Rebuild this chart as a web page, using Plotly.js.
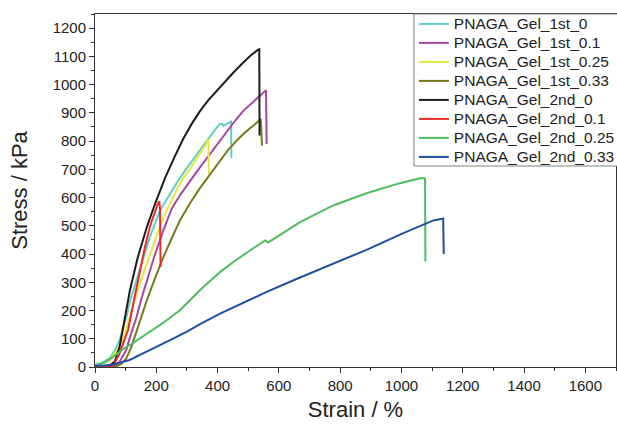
<!DOCTYPE html>
<html>
<head>
<meta charset="utf-8">
<script src="https://cdn.plot.ly/plotly-3.0.1.min.js"></script>
<style>
html,body{margin:0;padding:0;background:#fff;}
#chart{width:617px;height:426px;}
#chart text.legendtext{font-size:15.5px !important;}
#chart .legend .scrollbox{clip-path:none !important;}
#chart .legend{clip-path:none !important;}
</style>
</head>
<body>
<div id="chart"></div>
<script>
// Series names
const seriesNames = ["PNAGA_Gel_1st_0","PNAGA_Gel_1st_0.1","PNAGA_Gel_1st_0.25","PNAGA_Gel_1st_0.33",
                     "PNAGA_Gel_2nd_0","PNAGA_Gel_2nd_0.1","PNAGA_Gel_2nd_0.25","PNAGA_Gel_2nd_0.33"];

// PNAGA_Gel_1st_0 (strain %, stress kPa)
const strain_1st_0 = [0,20,48,65,80,102,114,130,155,179,212,240,270,300,330,360,386,400,408,414,419,428,436,444,445];
const stress_1st_0 = [8,14,31,58,95,175,232,290,380,460,554,605,658,705,750,795,835,852,861,862,854,860,866,869,740];

// PNAGA_Gel_1st_0.1
const strain_1st_01 = [0,40,63,80,102,114,135,151,169,196,223,250,277,300,321,348,375,400,430,457,484,511,538,558,560];
const stress_1st_01 = [0,0,2,18,60,105,175,240,307,400,484,560,608,645,675,715,754,790,837,872,907,935,960,980,790];

// PNAGA_Gel_1st_0.25
const strain_1st_025 = [0,20,48,70,91,114,140,169,196,223,250,283,315,343,360,370,372];
const stress_1st_025 = [4,10,24,55,95,178,275,366,450,530,590,660,710,754,785,807,684];

// PNAGA_Gel_1st_0.33
const strain_1st_033 = [0,40,63,85,102,120,145,169,196,223,250,277,310,340,364,380,408,435,462,489,516,541,545];
const stress_1st_033 = [0,0,0,10,30,75,160,236,315,389,455,519,580,630,665,688,731,770,801,830,854,878,784];

// PNAGA_Gel_2nd_0
const strain_2nd_0 = [0,30,50,65,80,97,114,140,169,196,228,260,288,315,343,370,397,424,451,478,506,530,536,537];
const stress_2nd_0 = [0,2,6,20,70,166,272,390,495,578,668,745,808,860,907,945,978,1010,1042,1072,1101,1122,1125,820];

// PNAGA_Gel_2nd_0.1
const strain_2nd_01 = [0,40,59,80,108,125,145,163,180,196,205,210,212,214];
const stress_2nd_01 = [0,0,2,48,131,225,330,425,500,554,578,587,560,354];

// PNAGA_Gel_2nd_0.25
const strain_2nd_025 = [0,30,59,90,124,141,180,222,277,342,408,451,500,555,560,565,669,777,886,995,1060,1075,1077,1078];
const stress_2nd_025 = [4,15,36,62,85,97,125,156,201,272,336,372,408,448,445,441,513,572,615,651,668,669,662,374];

// PNAGA_Gel_2nd_0.33
const strain_2nd_033 = [0,30,59,113,160,200,245,300,343,408,451,560,669,777,886,995,1104,1136,1138];
const stress_2nd_033 = [4,5,9,25,50,70,95,125,152,189,211,266,317,366,415,469,519,526,400];

const colors = ["#62cdc7","#a647a5","#e8e63c","#7a7a1c","#1c1c1c","#ee2b2b","#4dbd5f","#1f4ea6"];

const xs = [strain_1st_0,strain_1st_01,strain_1st_025,strain_1st_033,strain_2nd_0,strain_2nd_01,strain_2nd_025,strain_2nd_033];
const ys = [stress_1st_0,stress_1st_01,stress_1st_025,stress_1st_033,stress_2nd_0,stress_2nd_01,stress_2nd_025,stress_2nd_033];

const traces = seriesNames.map((n,i)=>({
  type:"scatter", mode:"lines", name:n, x:xs[i], y:ys[i],
  line:{color:colors[i], width:2}
}));

const FONT = "Liberation Sans, Arial, sans-serif";
const layout = {
  width:617, height:426,
  margin:{l:95, r:1, t:14, b:59},
  paper_bgcolor:"#fff", plot_bgcolor:"#fff",
  font:{family:FONT, color:"#222", size:15},
  showlegend:true,
  legend:{x:0.612, y:1.013, xanchor:"left", yanchor:"top",
          borderwidth:0, bgcolor:"rgba(0,0,0,0)",
          font:{family:FONT, size:11.8, color:"#222"}, tracegroupgap:0, itemwidth:30},
  shapes:[{type:"rect", xref:"paper", yref:"paper", x0:0.6123, x1:1.2, y0:0.5694, y1:1,
           line:{color:"#808080", width:1}, fillcolor:"#ffffff", layer:"above"}],
  xaxis:{range:[0,1700], dtick:200, tick0:0, showgrid:false, zeroline:false,
         showline:true, linecolor:"#333", linewidth:1, mirror:true,
         ticks:"outside", ticklen:5, tickcolor:"#333",
         minor:{dtick:100, ticks:"outside", ticklen:3, tickcolor:"#333"},
         tickfont:{family:FONT, size:15, color:"#222"},
         title:{text:"Strain / %", font:{family:FONT, size:22, color:"#222"}, standoff:8}},
  yaxis:{range:[0,1250], dtick:100, tick0:0, showgrid:false, zeroline:false,
         showline:true, linecolor:"#333", linewidth:1, mirror:true,
         ticks:"outside", ticklen:5, tickcolor:"#333",
         minor:{dtick:50, ticks:"outside", ticklen:3, tickcolor:"#333"},
         tickfont:{family:FONT, size:15, color:"#222"},
         title:{text:"Stress / kPa", font:{family:FONT, size:22, color:"#222"}, standoff:18}}
};

Plotly.newPlot("chart", traces, layout, {displayModeBar:false, staticPlot:true});
</script>
</body>
</html>
